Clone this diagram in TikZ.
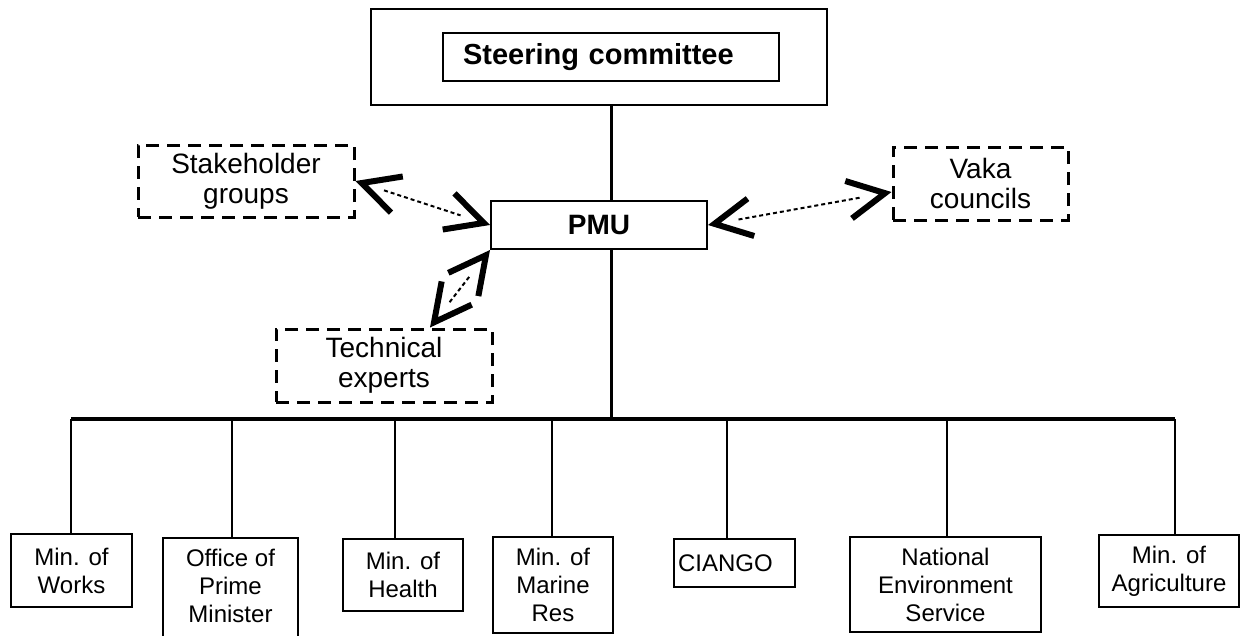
\documentclass[tikz,border=0pt]{standalone}
\usepackage{fontspec}
\setmainfont{Liberation Sans}
\usetikzlibrary{arrows.meta}
\tikzset{
  box/.style={draw, line width=2pt, inner sep=0pt, align=center, font=\fontsize{24}{28}\selectfont},
  dbox/.style={draw, line width=3pt, dash pattern=on 13pt off 8pt, inner sep=0pt, align=center, font=\fontsize{28}{30}\selectfont},
  boldbox/.style={draw, line width=2pt, inner sep=0pt, font=\bfseries\fontsize{28}{30}\selectfont},
  trunk/.style={line width=3pt},
  busline/.style={line width=3.5pt},
  drop/.style={line width=2pt},
  twoway/.style={line width=1.6pt, dash pattern=on 0pt off 2000pt, line cap=butt,
    >={Straight Barb[length=37pt,width=38pt,line width=6pt]}, <->},
  dotline/.style={line width=2pt, dash pattern=on 4pt off 3pt}
}
\begin{document}
\begin{tikzpicture}[x=1pt,y=-1pt]
\useasboundingbox (0,0) rectangle (1241,635);
\clip (0,0) rectangle (1241,635);

% steering committee
\node[draw, line width=2pt, minimum width=456pt, minimum height=96pt, inner sep=0pt] (steerOuter) at (599,57) {};
\node[draw, line width=2pt, minimum height=48pt, text width=296pt, inner xsep=20pt, inner ysep=0pt, align=left,
      font=\bfseries\fontsize{29}{32}\selectfont] (steer) at (611,57) {Steering committee};

% PMU
\node[boldbox, minimum width=216pt, minimum height=48pt] (pmu) at (599,225) {PMU};

% dashed satellites
\node[dbox, minimum width=216pt, minimum height=72pt] (stake) at (246,181) {Stakeholder\\groups};
\node[dbox, minimum width=175pt, minimum height=73pt] (vaka) at (980.5,183.5) {Vaka\\councils};
\node[dbox, minimum width=216pt, minimum height=73pt] (tech) at (384,365.5) {Technical\\experts};

% bottom boxes
\node[box, minimum width=121pt, minimum height=73pt] (works) at (71.5,570.5) {Min. of\\Works};
\node[draw, line width=2pt, minimum width=135pt, minimum height=122pt, inner sep=0pt] (office) at (230.5,599) {};
\node[align=center, inner sep=0pt, font=\fontsize{24}{28}\selectfont] (officeT) at (230.5,586) {Office of\\Prime\\Minister};
\node[box, minimum width=120pt, minimum height=72pt] (health) at (403,575) {Min. of\\Health};
\node[box, minimum width=120pt, minimum height=96pt] (marine) at (553,585) {Min. of\\Marine\\Res};
\node[box, text width=113pt, inner xsep=4pt, align=left, minimum height=48pt] (ciango) at (734.5,563) {CIANGO};
\node[box, minimum width=191pt, minimum height=95pt] (natenv) at (945.5,584.5) {National\\Environment\\Service};
\node[box, minimum width=140pt, minimum height=72pt] (agri) at (1169,571) {Min. of\\Agriculture};

% bus coordinates
\coordinate (b1) at (71,419);
\coordinate (b2) at (232,419);
\coordinate (b3) at (395,419);
\coordinate (b4) at (552,419);
\coordinate (b5) at (727,419);
\coordinate (b6) at (947,419);
\coordinate (b7) at (1175,419);

% trunk
\draw[trunk] (steerOuter.south -| steer.south) -- (pmu.north -| steer.south);
\draw[trunk] (pmu.south -| steer.south) -- (steer.south |- b1);
\draw[busline] (b1) -- (b7);

% drops
\draw[drop] (b1) -- (b1 |- works.north);
\draw[drop] (b2) -- (b2 |- office.north);
\draw[drop] (b3) -- (b3 |- health.north);
\draw[drop] (b4) -- (b4 |- marine.north);
\draw[drop] (b5) -- (b5 |- ciango.north);
\draw[drop] (b6) -- (b6 |- natenv.north);
\draw[drop] (b7) -- (b7 |- agri.north);

% two-way dotted arrows
\coordinate (vakaIn) at ([yshift=-8.5pt]vaka.west);
\coordinate (techIn) at ([xshift=46pt]tech.north);

\draw[twoway] (pmu.east) -- (vakaIn);
\draw[dotline, shorten <=31pt, shorten >=30pt] (pmu.east) -- (vakaIn);
\draw[twoway] (stake.east) -- (pmu.west);
\draw[dotline, shorten <=30pt, shorten >=31pt] (stake.east) -- (pmu.west);
\draw[twoway] (techIn) -- (pmu.south west);
\draw[dotline, shorten <=32pt, shorten >=32pt] (techIn) -- (pmu.south west);
\end{tikzpicture}
\end{document}
